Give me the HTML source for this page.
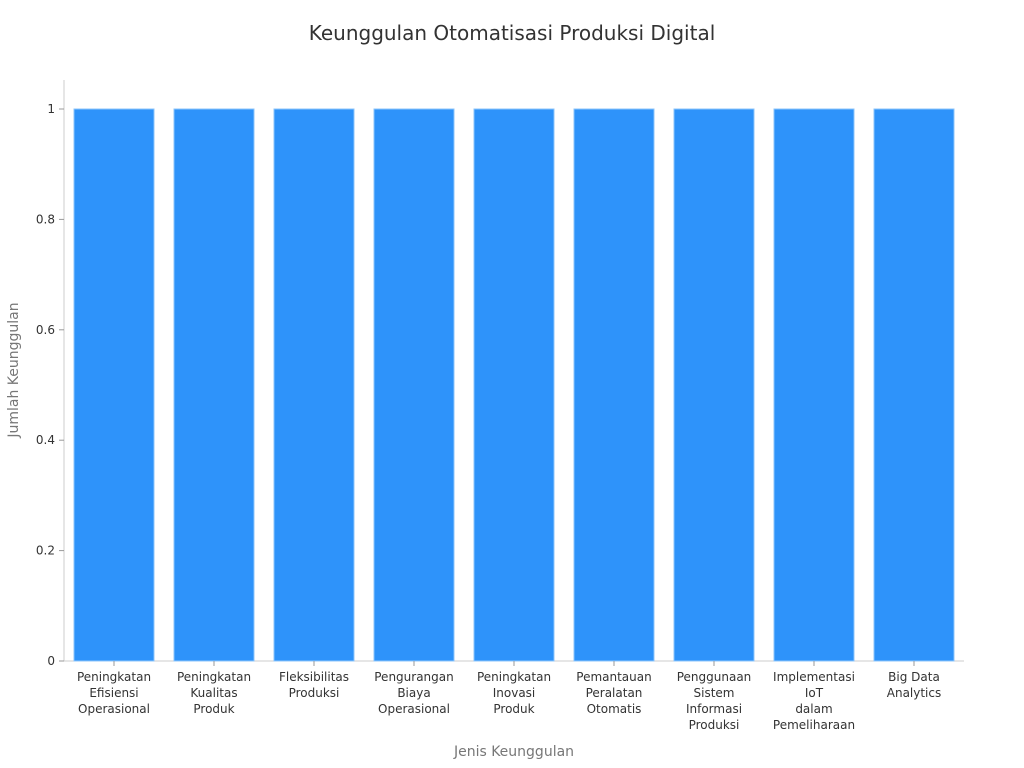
<!DOCTYPE html>
<html><head><meta charset="utf-8"><style>
body{margin:0;background:#fff;}
svg{display:block;font-family:"DejaVu Sans","Liberation Sans",sans-serif;}
</style></head><body>
<svg id="chart" width="1024" height="768">
<text x="512" y="40" text-anchor="middle" font-size="20" fill="#333">Keunggulan Otomatisasi Produksi Digital</text>
<text transform="translate(18,370) rotate(-90)" text-anchor="middle" font-size="14" fill="#777">Jumlah Keunggulan</text>
<text x="514" y="756" text-anchor="middle" font-size="14" fill="#777">Jenis Keunggulan</text>
<g id="plot"></g>
</svg>
<script>
const categories = [
 ["Peningkatan","Efisiensi","Operasional"],
 ["Peningkatan","Kualitas","Produk"],
 ["Fleksibilitas","Produksi"],
 ["Pengurangan","Biaya","Operasional"],
 ["Peningkatan","Inovasi","Produk"],
 ["Pemantauan","Peralatan","Otomatis"],
 ["Penggunaan","Sistem","Informasi","Produksi"],
 ["Implementasi","IoT","dalam","Pemeliharaan"],
 ["Big Data","Analytics"]
];
const values = [1,1,1,1,1,1,1,1,1];
const yTicks = [0,0.2,0.4,0.6,0.8,1];
const yTickLabels = ["0","0.2","0.4","0.6","0.8","1"];

const NS="http://www.w3.org/2000/svg";
const g=document.getElementById('plot');
const x0=64,x1=964,yBase=661,yTop=109;
const y=v=>yBase-(yBase-yTop)*v;
const band=(x1-x0)/categories.length;
const xc=i=>x0+band*(i+0.5);
function mk(t,a){const e=document.createElementNS(NS,t);for(const k in a)e.setAttribute(k,a[k]);g.appendChild(e);return e;}
let e;
e=mk('line',{x1:x0,y1:80,x2:x0,y2:yBase,stroke:'#ccc','stroke-width':1});


e=mk('line',{x1:x0,y1:yBase,x2:x1,y2:yBase,stroke:'#ccc','stroke-width':1});


yTicks.forEach((t,i)=>{
 e=mk('line',{x1:x0-5,y1:y(t),x2:x0,y2:y(t),stroke:'#999'});
 
 
 e=mk('text',{x:x0-9,y:y(t)+4,'text-anchor':'end','font-size':12,fill:'#333'});
 e.textContent=yTickLabels[i];
 
 
});
values.forEach((v,i)=>{
 const w=band*0.8;
 e=mk('rect',{x:xc(i)-w/2,y:y(v),width:w,height:yBase-y(v),fill:'#2E93FA',stroke:'#8cc4fb','stroke-width':1});
 
 
 e=mk('line',{x1:xc(i),y1:yBase,x2:xc(i),y2:yBase+5,stroke:'#999'});
 
 
 const t=mk('text',{'text-anchor':'middle','font-size':12,fill:'#333'});
 
 
 categories[i].forEach((line,j)=>{
  const s=document.createElementNS(NS,'tspan');
  s.setAttribute('x',xc(i));s.setAttribute('y',yBase+20+j*16);
  s.textContent=line;t.appendChild(s);
 });
});
</script>
</body></html>
